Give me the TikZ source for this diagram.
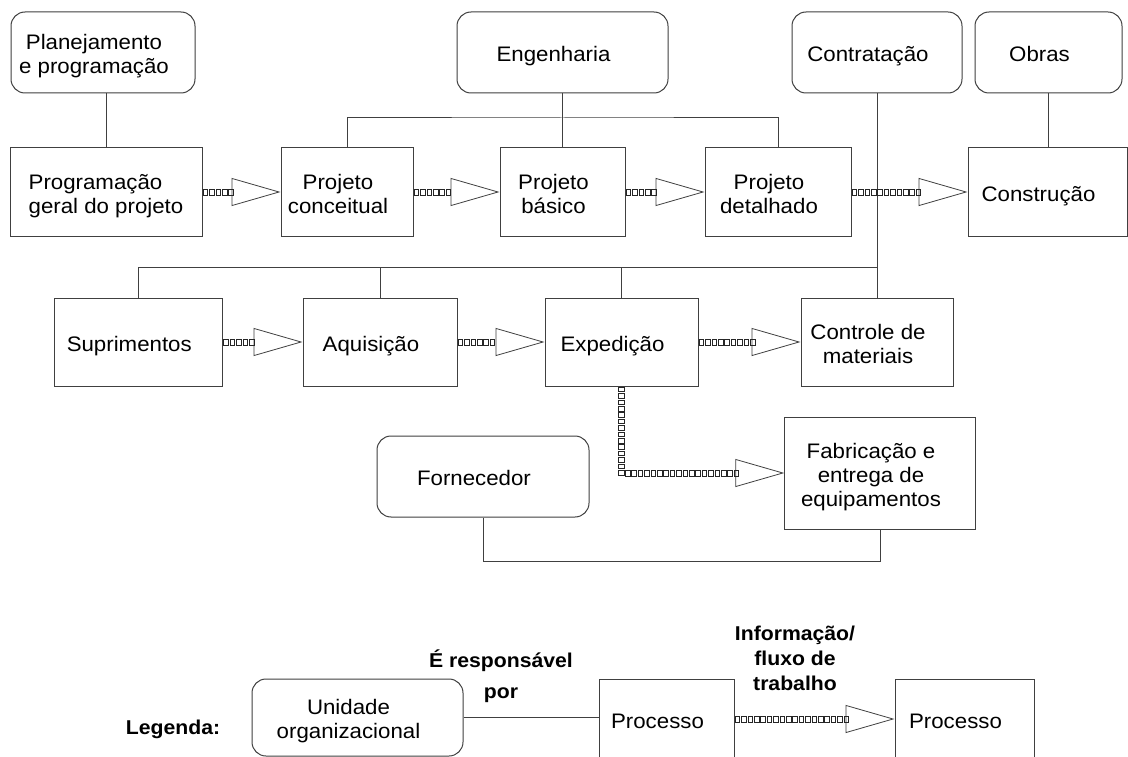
\documentclass[tikz,border=0pt]{standalone}
\usepackage{fontspec}
\setmainfont{Liberation Sans}[FakeStretch=1.06]
\usetikzlibrary{arrows.meta,decorations.markings}
\definecolor{linec}{HTML}{404040}
\newcommand{\boxtext}[1]{\raisebox{-4.5pt}[\height][\depth]{\begin{tabular}{@{}c@{}}#1\end{tabular}}\hspace*{18pt}}
\newcommand{\boxtextleft}[1]{\raisebox{-4.5pt}[\height][\depth]{\begin{tabular}{@{}l@{}}#1\end{tabular}}}
\begin{document}
\begin{tikzpicture}[x=1pt,y=-1pt,
  every node/.style={font=\fontsize{21}{24}\selectfont},
  proc/.style={draw=linec, line width=1pt, inner sep=0pt},
  unit/.style={proc, rounded corners=14pt},
  lab/.style={font=\fontsize{20}{25}\selectfont\bfseries, align=center, inner sep=0pt},
  conn/.style={draw=linec, line width=1pt},
  sq/.style={draw=black!85, line width=0.75pt, solid},
  flow/.style={draw=linec, line width=0.8pt, dash pattern=on 0pt off 9000pt,
    -{Triangle[open, length=49pt, width=28pt, line width=0.8pt]},
    postaction={decorate, decoration={markings,
      mark=between positions 3pt and -47pt step 6.4pt with {\draw[sq] (-2.3pt,-2.9pt) rectangle (2.3pt,2.9pt);}}}}
]
\clip (0,0) rectangle (1128,757);
\fill[white] (0,0) rectangle (1128,757);

% organizational units (row 1)
\node[unit, minimum width=184pt, minimum height=81pt] (plan) at (103,52.5) {\boxtext{Planejamento\\e programação}};
\node[unit, minimum width=211pt, minimum height=81pt] (eng) at (562.5,52.5) {\boxtext{Engenharia}};
\node[unit, minimum width=170pt, minimum height=81pt] (contr) at (877,52.5) {\boxtext{Contratação}};
\node[unit, minimum width=147pt, minimum height=81pt] (obras) at (1048.5,52.5) {\boxtext{Obras}};

% processes row 2
\node[proc, minimum width=192pt, minimum height=88pt] (prog) at (106,192) {\boxtextleft{Programação\\geral do projeto}};
\node[proc, minimum width=132pt, minimum height=88pt] (conc) at (347,192) {\boxtext{Projeto\\conceitual}};
\node[proc, minimum width=125pt, minimum height=88pt] (bas) at (562.5,192) {\boxtext{Projeto\\básico}};
\node[proc, minimum width=146pt, minimum height=88pt] (det) at (778,192) {\boxtext{Projeto\\detalhado}};
\node[proc, minimum width=159pt, minimum height=88pt] (cons) at (1047.5,192) {\boxtext{Construção}};

% processes row 3
\node[proc, minimum width=168.5pt, minimum height=88pt] (sup) at (138.25,342) {\boxtext{Suprimentos}};
\node[proc, minimum width=154pt, minimum height=88pt] (aq) at (380,342) {\boxtext{Aquisição}};
\node[proc, minimum width=153pt, minimum height=88pt] (exp) at (621.5,342) {\boxtext{Expedição}};
\node[proc, minimum width=152pt, minimum height=88pt] (ctrl) at (877,342) {\boxtext{Controle de\\materiais}};

% row 4
\node[unit, minimum width=212pt, minimum height=81pt] (forn) at (483,476.5) {\boxtext{Fornecedor}};
\node[proc, minimum width=190.5pt, minimum height=112pt] (fab) at (880,473) {\boxtext{Fabricação e\\entrega de\\equipamentos}};

% legend
\node[lab] (leg) at (173,729) {Legenda:};
\node[unit, minimum width=211pt, minimum height=77pt] (unid) at (357.5,717.5) {\boxtext{Unidade\\organizacional}};
\node[proc, minimum width=135pt, minimum height=80pt] (lp1) at (666.5,719) {\boxtext{Processo}};
\node[proc, minimum width=139pt, minimum height=80pt] (lp2) at (964.5,719) {\boxtext{Processo}};
\node[lab] (resp) at (501,676) {É responsável\\[6pt]por};
\node[lab] (info) at (795,658) {Informação/\\fluxo de\\trabalho};

% responsibility connectors
\coordinate (engbus) at (562.5,118);
\coordinate (supbus) at (621.5,267);
\coordinate (fornbus) at (483,561);
\draw[conn] (plan.south -| prog.north) -- (prog.north);
\draw[conn] (conc.north) |- (engbus) -| (det.north);
\draw[conn] (eng.south) -- (bas.north);
\draw[conn] (contr.south) -- (ctrl.north);
\draw[conn] (obras.south) -- (obras.south |- cons.north);
\draw[conn] (sup.north) |- (ctrl.north |- supbus);
\draw[conn] (aq.north) -- (aq.north |- supbus);
\draw[conn] (exp.north) -- (exp.north |- supbus);
\draw[conn] (forn.south) |- (fornbus) -| (fab.south);
\draw[conn] (unid.east) -- (unid.east -| lp1.west);

% information / work flow
\draw[flow] (prog.east) -- (conc.west);
\draw[flow] (conc.east) -- (bas.west);
\draw[flow] (bas.east) -- (det.west);
\draw[flow] (det.east) -- (cons.west);
\draw[flow] (sup.east) -- (aq.west);
\draw[flow] (aq.east) -- (exp.west);
\draw[flow] (exp.east) -- (ctrl.west);
\draw[flow] (exp.south) |- (fab.west);
\draw[flow] (lp1.east) -- (lp2.west);
\end{tikzpicture}
\end{document}
